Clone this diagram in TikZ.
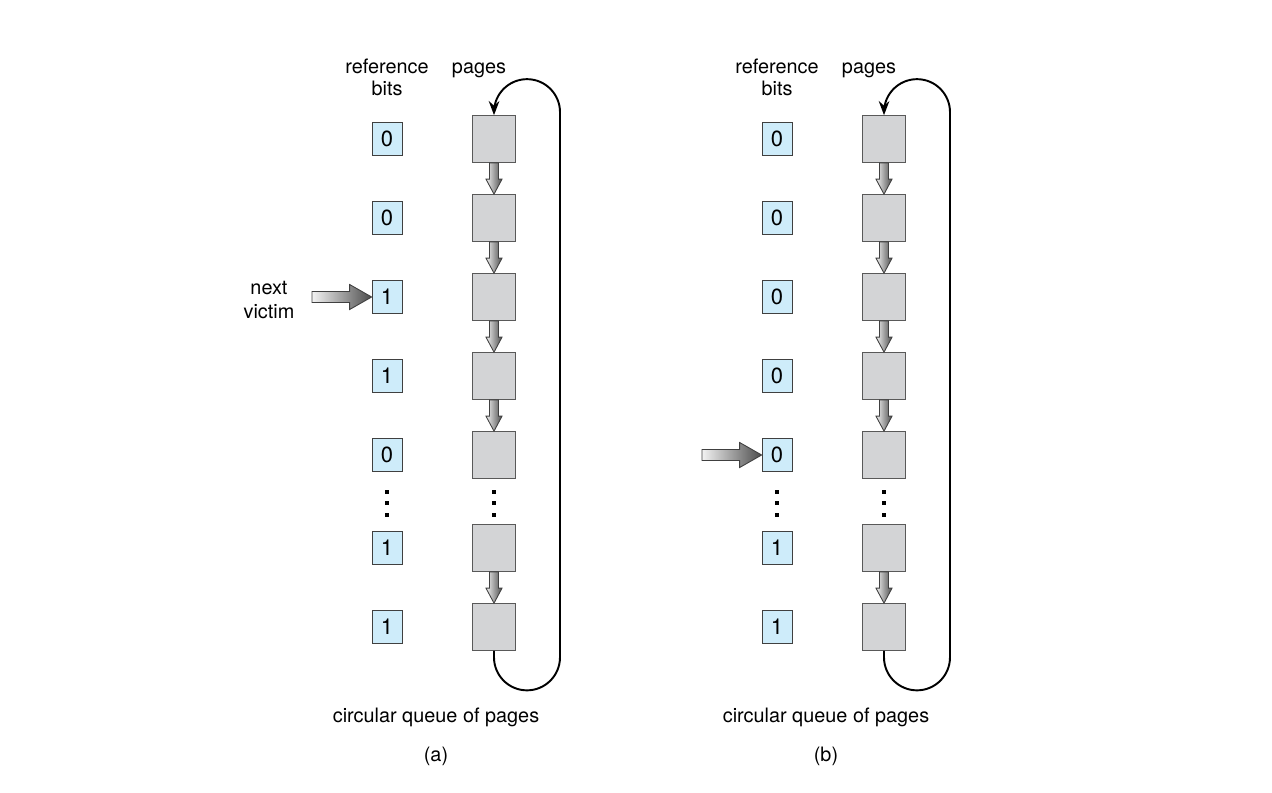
\documentclass[tikz,border=0pt]{standalone}
\usepackage{fontspec}
\setmainfont{TeX Gyre Heros}
\usetikzlibrary{calc,positioning,arrows.meta,bending}
\definecolor{bitblue}{RGB}{206,236,250}
\definecolor{pagegray}{RGB}{211,212,214}
\tikzset{
  bitbox/.style={draw=black!75,fill=bitblue,minimum width=0.6cm,minimum height=0.66cm,inner sep=0pt,font=\fontsize{12.5}{14}\selectfont},
  pagebox/.style={draw=black!65,fill=pagegray,minimum width=0.86cm,minimum height=0.94cm,inner sep=0pt},
  lbl/.style={font=\fontsize{11.3}{12.5}\selectfont,inner sep=0pt,align=center},
  garrow/.style={draw=black!75,line width=0.5pt,left color=gray!10,right color=black!70},
  loopline/.style={line width=1.1pt,-{Stealth[length=8pt,width=6pt,bend]}},
}

\begin{document}
\begin{tikzpicture}[x=0.02cm,y=-0.02cm]
\useasboundingbox (0,0) rectangle (1272,792);

% (a)
\begin{scope}
\foreach \i/\yy/\bb in {1/139/0,2/218/0,3/297/1,4/376/1,5/455/0,6/548/1,7/627/1}{
\node[bitbox] (ra\i) at (387,\yy) {\bb};
\node[pagebox] (pa\i) at (494,\yy) {};
}

\foreach \s/\t in {pa1/pa2,pa2/pa3,pa3/pa4,pa4/pa5,pa6/pa7}{
\shade[garrow] ($(\s.south)+(-4.5,0)$) -- ($(\t.north)+(-4.5,-15)$) -- ($(\t.north)+(-8,-15)$) -- (\t.north)
  -- ($(\t.north)+(8,-15)$) -- ($(\t.north)+(4.5,-15)$) -- ($(\s.south)+(4.5,0)$) -- cycle;
}

\foreach \d in {492,503,515}{
\fill ($(387,\d)+(-1.8,-1.8)$) rectangle ++(3.6,3.6);
\fill ($(494,\d)+(-1.8,-1.8)$) rectangle ++(3.6,3.6);
}

\draw[loopline] (pa7.south) -- ++(0,6.5) arc[start angle=180,end angle=360,radius=0.66cm]
  -- ($(pa1.north)+(66,-3)$) arc[start angle=0,end angle=180,radius=0.66cm] -- (pa1.north);

\node[lbl,anchor=base] (refa) at (387,95) {reference\\bits};
\node[lbl,anchor=base] (pagesa) at (479,73) {pages};
\node[lbl,anchor=base] (victim) at (269,318) {next\\[1pt]victim};

\coordinate (va) at (312,297);
\shade[garrow] ($(va)+(0,-5.5)$) -- ($(ra3.west)+(-22,-5.5)$) -- ($(ra3.west)+(-22,-12.5)$) -- (ra3.west)
  -- ($(ra3.west)+(-22,12.5)$) -- ($(ra3.west)+(-22,5.5)$) -- ($(va)+(0,5.5)$) -- cycle;

\node[lbl,anchor=base] (cqa) at (436,722) {circular queue of pages};
\node[lbl,anchor=base] (capa) at (436,761) {(a)};
\end{scope}

% (b)
\begin{scope}[shift={(390,0)}]
\foreach \i/\yy/\bb in {1/139/0,2/218/0,3/297/0,4/376/0,5/455/0,6/548/1,7/627/1}{
\node[bitbox] (rb\i) at (387,\yy) {\bb};
\node[pagebox] (pb\i) at (494,\yy) {};
}

\foreach \s/\t in {pb1/pb2,pb2/pb3,pb3/pb4,pb4/pb5,pb6/pb7}{
\shade[garrow] ($(\s.south)+(-4.5,0)$) -- ($(\t.north)+(-4.5,-15)$) -- ($(\t.north)+(-8,-15)$) -- (\t.north)
  -- ($(\t.north)+(8,-15)$) -- ($(\t.north)+(4.5,-15)$) -- ($(\s.south)+(4.5,0)$) -- cycle;
}

\foreach \d in {492,503,515}{
\fill ($(387,\d)+(-1.8,-1.8)$) rectangle ++(3.6,3.6);
\fill ($(494,\d)+(-1.8,-1.8)$) rectangle ++(3.6,3.6);
}

\draw[loopline] (pb7.south) -- ++(0,6.5) arc[start angle=180,end angle=360,radius=0.66cm]
  -- ($(pb1.north)+(66,-3)$) arc[start angle=0,end angle=180,radius=0.66cm] -- (pb1.north);

\node[lbl,anchor=base] (refb) at (387,95) {reference\\bits};
\node[lbl,anchor=base] (pagesb) at (479,73) {pages};

\coordinate (vb) at (312,455);
\shade[garrow] ($(vb)+(0,-5.5)$) -- ($(rb5.west)+(-22,-5.5)$) -- ($(rb5.west)+(-22,-12.5)$) -- (rb5.west)
  -- ($(rb5.west)+(-22,12.5)$) -- ($(rb5.west)+(-22,5.5)$) -- ($(vb)+(0,5.5)$) -- cycle;

\node[lbl,anchor=base] (cqb) at (436,722) {circular queue of pages};
\node[lbl,anchor=base] (capb) at (436,761) {(b)};
\end{scope}

\end{tikzpicture}
\end{document}
